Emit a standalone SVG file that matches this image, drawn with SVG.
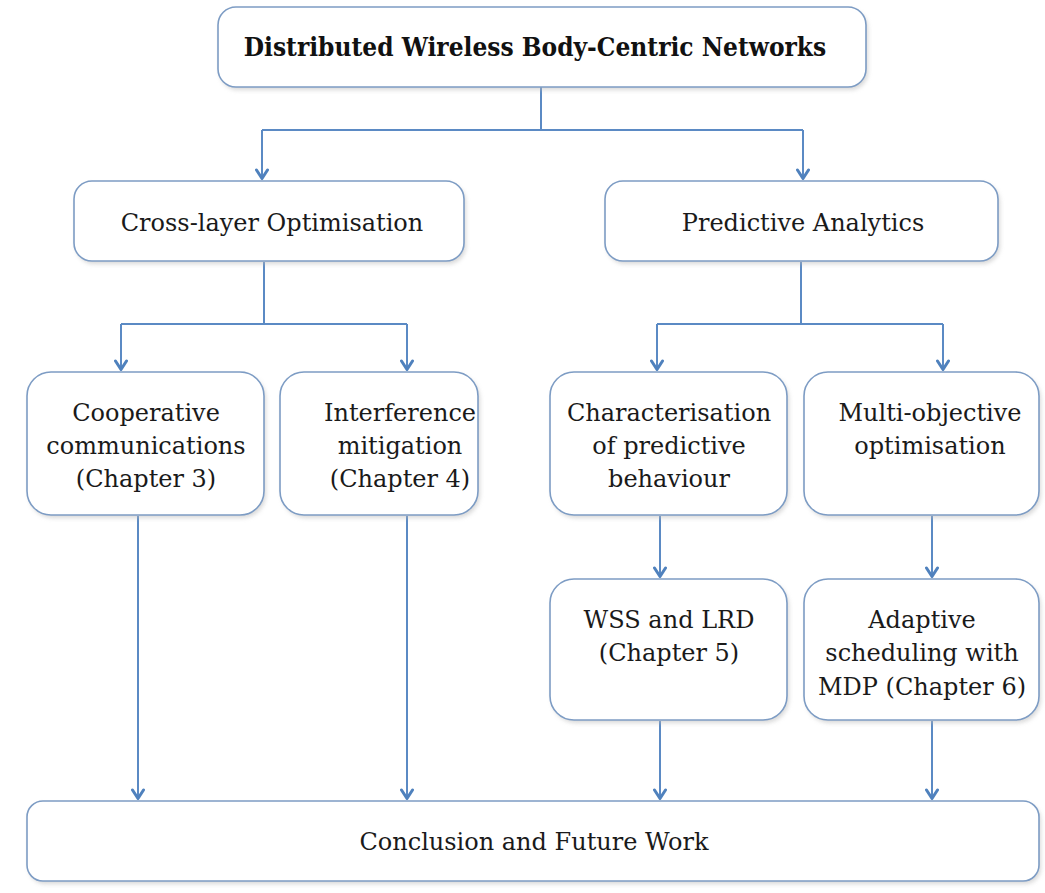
<svg xmlns="http://www.w3.org/2000/svg" width="1045" height="893" viewBox="0 0 1045 893">
  <style>
    .box { fill: #ffffff; stroke: #7d9cc4; stroke-width: 1.6; }
    .shadow { fill: #b9b9b9; opacity: 0.55; }
    .label { font-family: "DejaVu Serif", "Liberation Serif", serif; font-size: 24px; fill: #1a1a1a; text-anchor: middle; }
    .title { font-family: "DejaVu Serif Condensed", "DejaVu Serif", "Liberation Serif", serif; font-stretch: condensed; font-size: 26px; font-weight: bold; fill: #111111; text-anchor: middle; }
    .wire { fill: none; stroke: #5b8ac4; stroke-width: 2; }
  </style>
  <defs>
    <filter id="soft" x="-5%" y="-10%" width="110%" height="130%">
      <feGaussianBlur stdDeviation="2"/>
    </filter>
    <marker id="vhead" viewBox="0 0 12 14" refX="11" refY="7" markerWidth="12" markerHeight="14" markerUnits="userSpaceOnUse" orient="auto">
      <path d="M2,1.5 L10.5,7 L2,12.5" fill="none" stroke="#4f81bd" stroke-width="3" stroke-linejoin="round" stroke-linecap="round"/>
    </marker>
  </defs>

  <rect width="1045" height="893" fill="#ffffff"/>

  <!-- connectors -->
  <g id="connectors" class="wire">
    <path d="M541,87 V130 M262,130 H803"/>
    <path d="M262,130 V179" marker-end="url(#vhead)"/>
    <path d="M803,130 V179" marker-end="url(#vhead)"/>
    <path d="M264,262 V324 M121,324 H407"/>
    <path d="M121,324 V370" marker-end="url(#vhead)"/>
    <path d="M407,324 V370" marker-end="url(#vhead)"/>
    <path d="M801,262 V324 M657,324 H943"/>
    <path d="M657,324 V370" marker-end="url(#vhead)"/>
    <path d="M943,324 V370" marker-end="url(#vhead)"/>
    <path d="M660,516 V577" marker-end="url(#vhead)"/>
    <path d="M932,516 V577" marker-end="url(#vhead)"/>
    <path d="M138,516 V799" marker-end="url(#vhead)"/>
    <path d="M407,516 V799" marker-end="url(#vhead)"/>
    <path d="M660,721 V799" marker-end="url(#vhead)"/>
    <path d="M932,721 V799" marker-end="url(#vhead)"/>
  </g>

  <!-- top node -->
  <g id="root">
    <rect class="shadow" x="220" y="10" width="648" height="80" rx="18" filter="url(#soft)"/>
    <rect class="box" x="218" y="7" width="648" height="80" rx="18"/>
    <text class="title" x="535" y="56">Distributed Wireless Body-Centric Networks</text>
  </g>

  <g id="cross-layer">
    <rect class="shadow" x="76" y="184" width="390" height="80" rx="18" filter="url(#soft)"/>
    <rect class="box" x="74" y="181" width="390" height="80" rx="18"/>
    <text class="label" x="272" y="231">Cross-layer Optimisation</text>
  </g>

  <g id="predictive">
    <rect class="shadow" x="607" y="184" width="393" height="80" rx="18" filter="url(#soft)"/>
    <rect class="box" x="605" y="181" width="393" height="80" rx="18"/>
    <text class="label" x="803" y="231">Predictive Analytics</text>
  </g>

  <g id="cooperative">
    <rect class="shadow" x="29" y="375" width="237" height="143" rx="24" filter="url(#soft)"/>
    <rect class="box" x="27" y="372" width="237" height="143" rx="24"/>
    <text class="label" x="146" y="421">Cooperative</text>
    <text class="label" x="146" y="454">communications</text>
    <text class="label" x="146" y="487">(Chapter 3)</text>
  </g>

  <g id="interference">
    <rect class="shadow" x="282" y="375" width="198" height="143" rx="24" filter="url(#soft)"/>
    <rect class="box" x="280" y="372" width="198" height="143" rx="24"/>
    <text class="label" x="400" y="421">Interference</text>
    <text class="label" x="400" y="454">mitigation</text>
    <text class="label" x="400" y="487">(Chapter 4)</text>
  </g>

  <g id="characterisation">
    <rect class="shadow" x="552" y="375" width="237" height="143" rx="24" filter="url(#soft)"/>
    <rect class="box" x="550" y="372" width="237" height="143" rx="24"/>
    <text class="label" x="669" y="421">Characterisation</text>
    <text class="label" x="669" y="454">of predictive</text>
    <text class="label" x="669" y="487">behaviour</text>
  </g>

  <g id="multi-objective">
    <rect class="shadow" x="806" y="375" width="235" height="143" rx="24" filter="url(#soft)"/>
    <rect class="box" x="804" y="372" width="235" height="143" rx="24"/>
    <text class="label" x="930" y="421">Multi-objective</text>
    <text class="label" x="930" y="454">optimisation</text>
  </g>

  <g id="wss-lrd">
    <rect class="shadow" x="552" y="582" width="237" height="141" rx="24" filter="url(#soft)"/>
    <rect class="box" x="550" y="579" width="237" height="141" rx="24"/>
    <text class="label" x="669" y="628">WSS and LRD</text>
    <text class="label" x="669" y="661">(Chapter 5)</text>
  </g>

  <g id="adaptive">
    <rect class="shadow" x="806" y="582" width="235" height="141" rx="24" filter="url(#soft)"/>
    <rect class="box" x="804" y="579" width="235" height="141" rx="24"/>
    <text class="label" x="922" y="628">Adaptive</text>
    <text class="label" x="922" y="661">scheduling with</text>
    <text class="label" x="922" y="695">MDP (Chapter 6)</text>
  </g>

  <g id="conclusion">
    <rect class="shadow" x="29" y="804" width="1012" height="80" rx="16" filter="url(#soft)"/>
    <rect class="box" x="27" y="801" width="1012" height="80" rx="16"/>
    <text class="label" x="534" y="850">Conclusion and Future Work</text>
  </g>
</svg>
